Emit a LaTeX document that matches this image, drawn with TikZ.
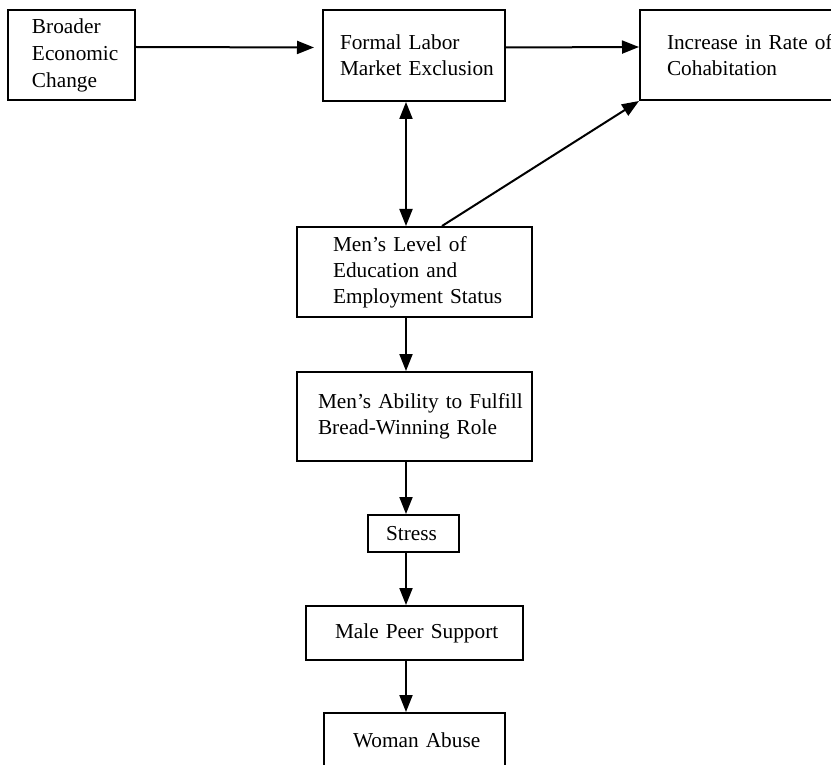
\documentclass[tikz,border=0pt]{standalone}
\usepackage{fontspec}
\setmainfont{Liberation Serif}
\usetikzlibrary{arrows.meta}

\begin{document}
\begin{tikzpicture}[x=0.5pt, y=-0.5pt,
  stage/.style={draw, line width=1pt, align=left, inner xsep=0pt,
    font=\fontsize{10.65pt}{13pt}\selectfont},
  flow/.style={line width=1pt, -{Triangle[length=8.5pt, width=6.5pt]}},
  bothflow/.style={line width=1pt, {Triangle[length=8.5pt, width=6.5pt]}-{Triangle[length=8.5pt, width=6.5pt]}}]
 \useasboundingbox (0,0) rectangle (831,765);

 %% top row
 \node[stage, minimum width=63.5pt, minimum height=45pt, text width=39.5pt] (broad) at (71.5,55)
   {Broader\\[0.5pt]\mbox{Economic}\\[0.5pt]Change};
 \node[stage, minimum width=91pt, minimum height=45.5pt, text width=74pt] (excl) at (414,55.5)
   {Formal Labor\\\mbox{Market Exclusion}};
 \node[stage, minimum width=105pt, minimum height=45pt, text width=78pt] (cohab) at (745,55)
   {\mbox{Increase in Rate of}\\Cohabitation};

 %% the chain down the middle
 \node[stage, minimum width=117.5pt, minimum height=45pt, text width=81.5pt] (edu) at (414.5,272)
   {Men's Level of\\Education and\\\mbox{Employment Status}};
 \node[stage, minimum width=117.5pt, minimum height=44.5pt, text width=96.5pt] (ability) at (414.5,416.5)
   {\mbox{Men's Ability to Fulfill}\\Bread-Winning Role};
 \node[stage, minimum width=45.5pt, minimum height=18.5pt, text width=27.5pt] (stress) at (413.5,533.5)
   {Stress};
 \node[stage, minimum width=108.5pt, minimum height=27pt, text width=79.5pt] (peer) at (414.5,633)
   {\mbox{Male Peer Support}};
 \node[stage, minimum width=90.5pt, minimum height=27pt, text width=61.5pt] (abuse) at (414.5,740)
   {\mbox{Woman Abuse}};

 \coordinate (spine) at (406,0);

 \draw[flow, shorten >=4pt] ([yshift=4pt]broad.east) -- ([yshift=4pt]excl.west);
 \draw[flow] ([yshift=4pt]excl.east) -- ([yshift=4pt]cohab.west);
 \draw[flow] ([xshift=13.75pt]edu.north) -- (cohab.south west);

 \draw[bothflow] (excl.south -| spine) -- (edu.north -| spine);
 \draw[flow] (edu.south -| spine) -- (ability.north -| spine);
 \draw[flow] (ability.south -| spine) -- (stress.north -| spine);
 \draw[flow] (stress.south -| spine) -- (peer.north -| spine);
 \draw[flow] (peer.south -| spine) -- (abuse.north -| spine);
\end{tikzpicture}
\end{document}
